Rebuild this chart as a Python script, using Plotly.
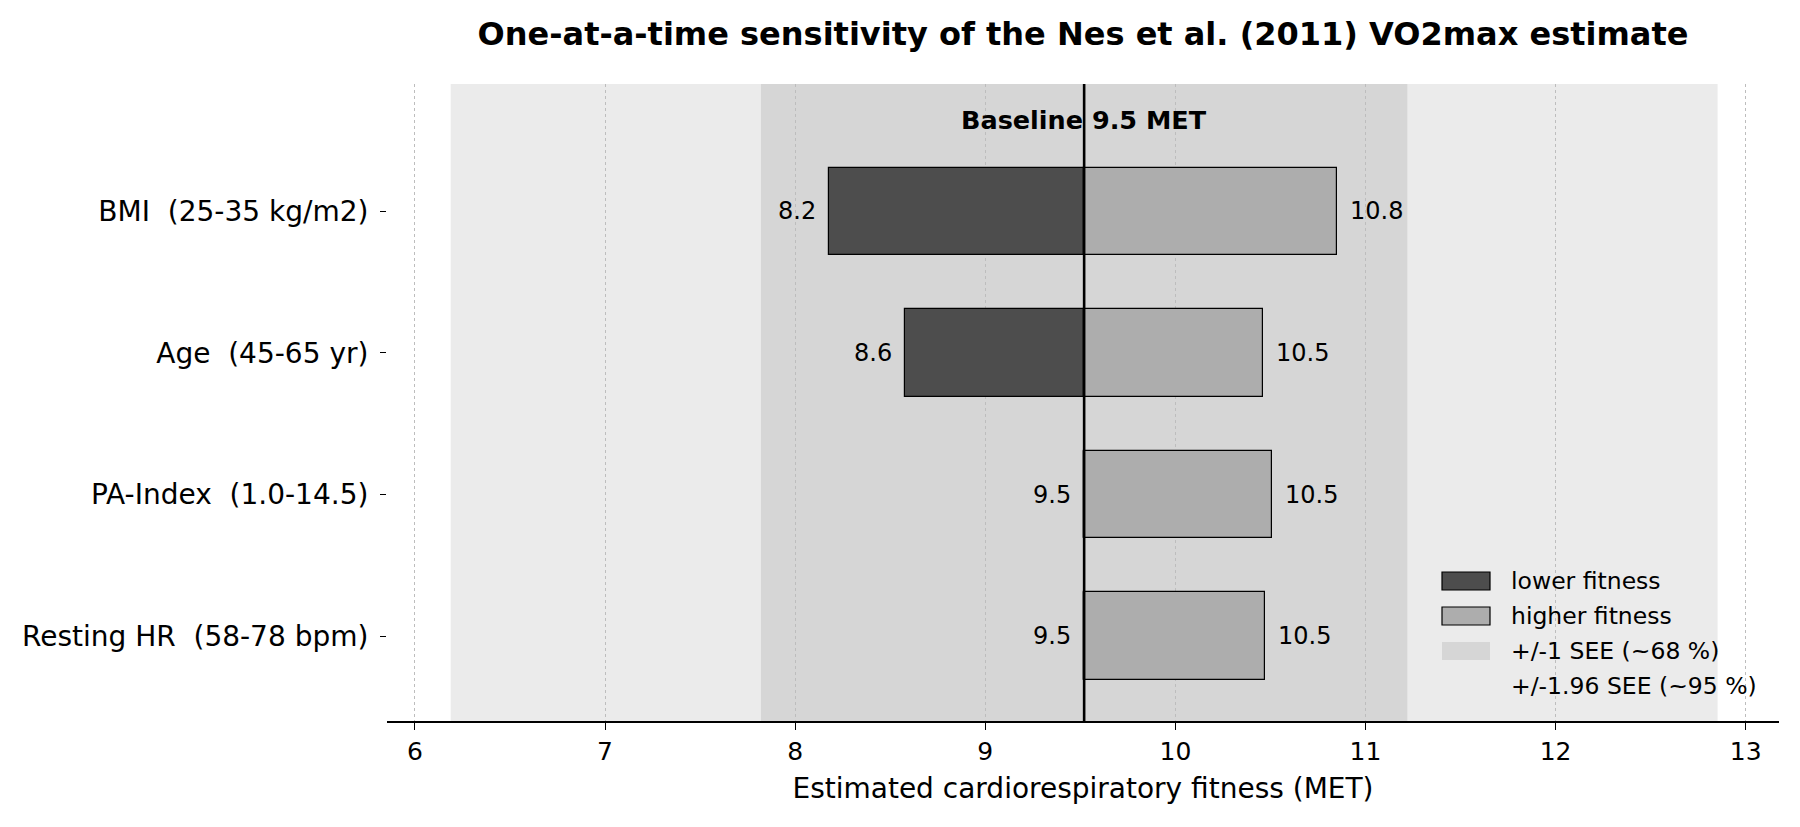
import plotly.graph_objects as go

# ---- data ----
factors = ["BMI  (25-35 kg/m2)", "Age  (45-65 yr)", "PA-Index  (1.0-14.5)", "Resting HR  (58-78 bpm)"]
low_vals = [8.18, 8.58, 9.52, 9.52]
high_vals = [10.85, 10.46, 10.51, 10.47]
baseline = 9.52
see = 1.70
x_ticks = [6, 7, 8, 9, 10, 11, 12, 13]

FONT = "DejaVu Sans"
W, H = 1800, 827
L, R, T, B = 387, 21, 84, 106

fig = go.Figure()

fig.add_trace(go.Bar(
    y=factors, x=[v - baseline for v in low_vals], base=baseline, orientation="h",
    width=0.62, marker=dict(color="#4d4d4d", line=dict(color="black", width=1.2)),
    name="lower fitness", showlegend=False, hoverinfo="skip"))
fig.add_trace(go.Bar(
    y=factors, x=[v - baseline for v in high_vals], base=baseline, orientation="h",
    width=0.62, marker=dict(color="#adadad", line=dict(color="black", width=1.2)),
    name="higher fitness", showlegend=False, hoverinfo="skip"))

# SEE bands
fig.add_shape(type="rect", xref="x", yref="paper", x0=baseline - 1.96 * see, x1=baseline + 1.96 * see,
              y0=0, y1=1, fillcolor="#ebebeb", line_width=0, layer="below")
fig.add_shape(type="rect", xref="x", yref="paper", x0=baseline - see, x1=baseline + see,
              y0=0, y1=1, fillcolor="#d6d6d6", line_width=0, layer="below")
# baseline line
fig.add_shape(type="line", xref="x", yref="paper", x0=baseline, x1=baseline, y0=0, y1=1,
              line=dict(color="black", width=2.6), layer="above")

# value labels
for f, lo, hi in zip(factors, low_vals, high_vals):
    fig.add_annotation(x=lo, y=f, text=f"{lo:.1f}", showarrow=False, xanchor="right",
                       xshift=-11, font=dict(family=FONT, size=24, color="black"))
    fig.add_annotation(x=hi, y=f, text=f"{hi:.1f}", showarrow=False, xanchor="left",
                       xshift=11, font=dict(family=FONT, size=24, color="black"))

fig.add_annotation(x=baseline, y=3.646, text=f"<b>Baseline {baseline:.1f} MET</b>", showarrow=False,
                   xanchor="center", yanchor="middle", font=dict(family=FONT, size=25.5, color="black"))

# manual legend
pw = W - L - R
ph = H - T - B
def px(xp):
    return (xp - L) / pw
def py(yp):
    return 1 - (yp - T) / ph

legend_items = [("lower fitness", "#4d4d4d", True), ("higher fitness", "#adadad", True),
                ("+/-1 SEE (~68 %)", "#d6d6d6", False), ("+/-1.96 SEE (~95 %)", "#ebebeb", False)]
for i, (lab, col, edge) in enumerate(legend_items):
    yc = 581 + i * 35
    fig.add_shape(type="rect", xref="paper", yref="paper", x0=px(1442), x1=px(1490),
                  y0=py(yc + 9), y1=py(yc - 9), fillcolor=col,
                  line=dict(color="black" if edge else col, width=1.2 if edge else 0), layer="above")
    fig.add_annotation(xref="paper", yref="paper", x=px(1509), y=py(yc), text=lab, showarrow=False,
                       xanchor="left", yanchor="middle", font=dict(family=FONT, size=23.5, color="black"))

fig.update_layout(
    width=W, height=H, margin=dict(l=L, r=R, t=T, b=B),
    paper_bgcolor="white", plot_bgcolor="white", barmode="overlay", bargap=0,
    title=dict(text="<b>One-at-a-time sensitivity of the Nes et al. (2011) VO2max estimate</b>",
               x=(L + pw / 2) / W, xanchor="center", y=1 - 34 / H, yanchor="middle",
               font=dict(family=FONT, size=32, color="black")),
    font=dict(family=FONT, color="black"),
)
fig.update_xaxes(range=[5.853, 13.175], tickvals=x_ticks, ticktext=[str(t) for t in x_ticks],
                 ticks="outside", ticklen=7, tickwidth=1.3, tickcolor="black",
                 showline=True, linecolor="black", linewidth=1.6,
                 showgrid=True, gridcolor="#bdbdbd", gridwidth=1.3, griddash="dot", zeroline=False,
                 tickfont=dict(family=FONT, size=25, color="black"),
                 title=dict(text="Estimated cardiorespiratory fitness (MET)", standoff=14,
                            font=dict(family=FONT, size=28, color="black")))
fig.update_yaxes(range=[-0.6, 3.9], categoryorder="array", categoryarray=factors[::-1],
                 ticks="outside", ticklen=6, tickwidth=1.3, tickcolor="black",
                 ticklabelstandoff=6,
                 showline=False, showgrid=False, zeroline=False,
                 tickfont=dict(family=FONT, size=28, color="black"))

fig.write_html("out.html")
